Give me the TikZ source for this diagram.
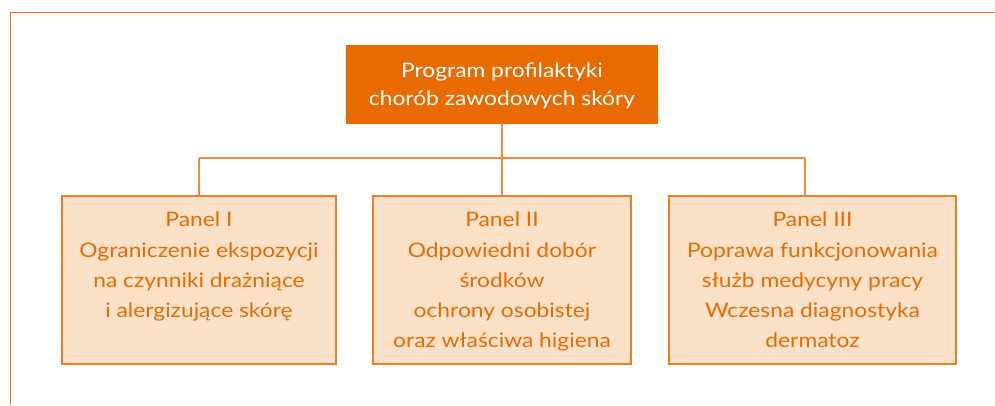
\documentclass[tikz,border=0pt]{standalone}
\usepackage{fontspec}
\setmainfont[FakeStretch=1.14]{Lato}
\definecolor{frameorange}{RGB}{255,108,8}
\definecolor{headfill}{RGB}{233,106,0}
\definecolor{panelfill}{RGB}{250,225,200}
\definecolor{paneledge}{RGB}{240,125,30}
\definecolor{paneltext}{RGB}{233,106,0}
\definecolor{linkorange}{RGB}{240,140,60}
\tikzset{
  headbox/.style={fill=headfill, draw=none, inner sep=0pt},
  panelbox/.style={fill=panelfill, draw=paneledge, line width=1.5pt, inner sep=0pt},
  headtext/.style={text=white, align=center, inner sep=0pt, anchor=north, font=\fontsize{20}{28}\selectfont},
  paneltxt/.style={text=paneltext, align=center, inner sep=0pt, anchor=north, font=\fontsize{20}{30.2}\selectfont},
  link/.style={draw=linkorange, line width=1.5pt},
}
\begin{document}
\begin{tikzpicture}[x=1pt,y=-1pt]
\useasboundingbox (0,0) rectangle (995,405);
% outer frame
\draw[frameorange, line width=1.6pt] (995,12.5) -- (10.5,12.5) -- (10.5,405);

% boxes
\node[headbox, minimum width=312pt, minimum height=79pt] (head) at (502,84.5) {};
\node[headtext] (headlabel) at (502,62.4) {Program profilaktyki\\chorób zawodowych skóry};

\node[panelbox, minimum width=274pt, minimum height=168pt] (p1) at (199,280) {};
\node[panelbox, minimum width=258pt, minimum height=168pt] (p2) at (502,280) {};
\node[panelbox, minimum width=287pt, minimum height=168pt] (p3) at (812.5,280) {};

\node[paneltxt] (t1) at (199,212) {Panel I\\Ograniczenie ekspozycji\\na czynniki drażniące\\i alergizujące skórę};
\node[paneltxt] (t2) at (502,212) {Panel II\\Odpowiedni dobór\\środków\\ochrony osobistej\\oraz właściwa higiena};
\node[paneltxt] (t3) at (812.5,212) {Panel III\\Poprawa funkcjonowania\\służb medycyny pracy\\Wczesna diagnostyka\\dermatoz};

% connectors
\coordinate (drop1) at (199,158);
\coordinate (drop3) at (805,158);
\draw[link] (head.south) -- (p2.north);
\draw[link] (drop1) -- (drop3);
\draw[link] (drop1) -- (p1.north);
\draw[link] (drop3) -- (drop3 |- p3.north);
\end{tikzpicture}
\end{document}
